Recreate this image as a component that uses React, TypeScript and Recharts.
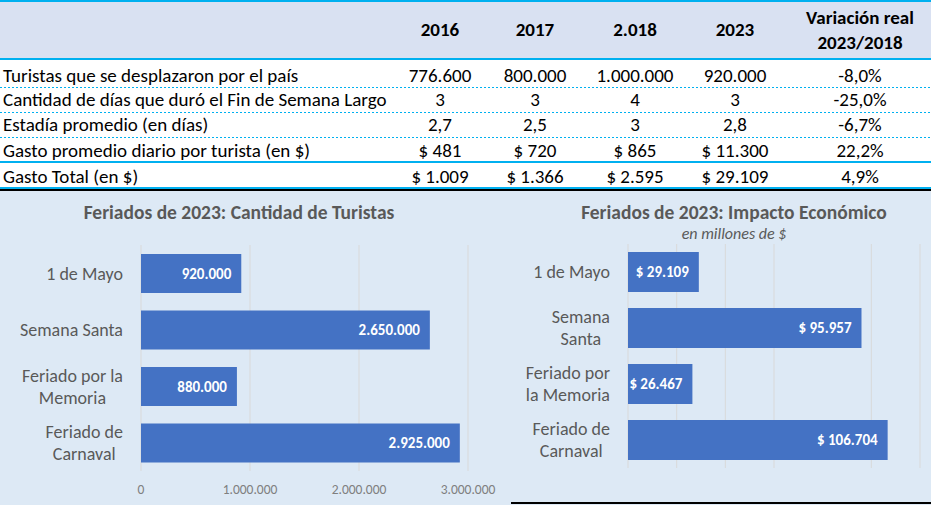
import React from 'react';
import { BarChart, Bar, XAxis, YAxis, CartesianGrid, LabelList } from 'recharts';

const FONT = 'Carlito, Calibri, Lato, sans-serif';

// table
const tableYears = ['2016', '2017', '2.018', '2023'];
const tableVarHeader = ['Variación real', '2023/2018'];
const tableRowLabels = [
  'Turistas que se desplazaron por el país',
  'Cantidad de días que duró el Fin de Semana Largo',
  'Estadía promedio (en días)',
  'Gasto promedio diario por turista (en $)',
  'Gasto Total (en $)',
];
const tableRowValues = [
  ['776.600', '800.000', '1.000.000', '920.000', '-8,0%'],
  ['3', '3', '4', '3', '-25,0%'],
  ['2,7', '2,5', '3', '2,8', '-6,7%'],
  ['$ 481', '$ 720', '$ 865', '$ 11.300', '22,2%'],
  ['$ 1.009', '$ 1.366', '$ 2.595', '$ 29.109', '4,9%'],
];

// charts
const feriados = ['1 de Mayo', 'Semana Santa', 'Feriado por la Memoria', 'Feriado de Carnaval'];
const turistas = [920000, 2650000, 880000, 2925000];
const impacto = [29109, 95957, 26467, 106704];
const turistasTicks = [0, 1000000, 2000000, 3000000];
const impactoTicks = [0, 20000, 40000, 60000, 80000, 100000];
const turistasLabelLines = [['1 de Mayo'], ['Semana Santa'], ['Feriado por la', 'Memoria'], ['Feriado de', 'Carnaval']];
const impactoLabelLines = [['1 de Mayo'], ['Semana', 'Santa'], ['Feriado por', 'la Memoria'], ['Feriado de', 'Carnaval']];

const turistasData = feriados.map((name, i) => ({ name, value: turistas[i] }));
const impactoData = feriados.map((name, i) => ({ name, value: impacto[i] }));

const BAR = '#4472c4';
const BG = '#dde9f5';
const CYAN = '#00b0f0';

const fmt = (n: number) => String(n).replace(/\B(?=(\d{3})+(?!\d))/g, '.');

let ctx: CanvasRenderingContext2D | null = null;
function textWidth(s: string, font: string) {
  if (!ctx) ctx = document.createElement('canvas').getContext('2d');
  if (!ctx) return s.length * 8;
  ctx.font = font;
  return ctx.measureText(s).width;
}

function CategoryTick(props: any) {
  const { x, y, payload, linesMap } = props;
  const lines: string[] = linesMap[payload.value] || [payload.value];
  const widest = Math.max(...lines.map(l => textWidth(l, `18px ${FONT}`)));
  const cx = x - widest / 2;
  const top = y - ((lines.length - 1) * 22) / 2;
  return (
    <g>
      {lines.map((l, i) => (
        <text key={i} x={cx} y={top + i * 22} dy='0.35em' textAnchor='middle' fill='#595959' fontSize={18} fontFamily={FONT}>
          {l}
        </text>
      ))}
    </g>
  );
}

function ValueLabel(props: any) {
  const { x, y, width, height, value, prefix } = props;
  return (
    <text x={x + width - 10} y={y + height / 2} dy='0.35em' textAnchor='end' fill='#fff' fontSize={15} fontWeight={700} fontFamily={FONT}>
      {(prefix || '') + fmt(value)}
    </text>
  );
}

function Table() {
  const rowCenters = [76, 100, 125, 151, 177];
  const centers = [440, 535, 635, 735, 860];
  const cell = (text: string, cx: number, cy: number, bold = false) => (
    <div
      key={text + cx + cy}
      style={{ position: 'absolute', left: cx - 100, width: 200, top: cy - 12, height: 24, lineHeight: '24px', textAlign: 'center', fontWeight: bold ? 700 : 400 }}
    >
      {text}
    </div>
  );
  const dotted = (top: number) => (
    <div key={'d' + top} style={{ position: 'absolute', left: 0, width: 931, top, height: 1, background: `repeating-linear-gradient(to right, ${CYAN} 0 2px, transparent 2px 4px)` }} />
  );
  return (
    <div style={{ position: 'absolute', left: 0, top: 0, width: 931, height: 190, background: '#fff', fontFamily: FONT, fontSize: 19, color: '#000' }}>
      <div style={{ position: 'absolute', left: 0, top: 0, width: 931, height: 58, background: '#d9e1f2' }} />
      <div style={{ position: 'absolute', left: 0, top: 0, width: 931, height: 2, background: CYAN }} />
      <div style={{ position: 'absolute', left: 0, top: 58, width: 931, height: 2, background: CYAN }} />
      {dotted(87)}
      {dotted(112)}
      {dotted(137)}
      <div style={{ position: 'absolute', left: 0, top: 161, width: 931, height: 2, background: CYAN }} />
      <div style={{ position: 'absolute', left: 0, top: 187, width: 931, height: 2, background: CYAN }} />
      <div style={{ position: 'absolute', left: 0, top: 189, width: 931, height: 2, background: '#000' }} />
      {tableYears.map((y, i) => cell(y, centers[i], 30, true))}
      {cell(tableVarHeader[0], centers[4], 18, true)}
      {cell(tableVarHeader[1], centers[4], 43, true)}
      {tableRowLabels.map((l, r) => (
        <div key={l} style={{ position: 'absolute', left: 3, top: rowCenters[r] - 12, height: 24, lineHeight: '24px', whiteSpace: 'nowrap' }}>
          {l}
        </div>
      ))}
      {tableRowValues.map((row, r) => row.map((v, c) => cell(v, centers[c], rowCenters[r])))}
    </div>
  );
}

export default function App() {
  const leftMap: Record<string, string[]> = {};
  const rightMap: Record<string, string[]> = {};
  feriados.forEach((f, i) => {
    leftMap[f] = turistasLabelLines[i];
    rightMap[f] = impactoLabelLines[i];
  });
  const titleStyle: React.CSSProperties = { position: 'absolute', textAlign: 'center', fontFamily: FONT, fontWeight: 700, fontSize: 19.5, color: '#595959', whiteSpace: 'nowrap' };
  return (
    <div style={{ position: 'absolute', left: 0, top: 0, width: 931, height: 505, background: BG, overflow: 'hidden' }}>
      <Table />
      <div style={{ ...titleStyle, left: 39, width: 400, top: 200, height: 24, lineHeight: '24px' }}>Feriados de 2023: Cantidad de Turistas</div>
      <div style={{ ...titleStyle, left: 534, width: 400, top: 200, height: 24, lineHeight: '24px' }}>Feriados de 2023: Impacto Económico</div>
      <div style={{ ...titleStyle, left: 534, width: 400, top: 225, height: 18, lineHeight: '18px', fontWeight: 400, fontStyle: 'italic', fontSize: 16 }}>en millones de $</div>

      <div style={{ position: 'absolute', left: 0, top: 190 }}>
        <BarChart width={512} height={315} data={turistasData} layout='vertical' margin={{ top: 55, right: 44, left: 0, bottom: 4 }}>
          <CartesianGrid horizontal={false} stroke='#d9d9d9' />
          <XAxis
            type='number'
            domain={[0, 3000000]}
            ticks={turistasTicks}
            tickFormatter={fmt}
            axisLine={false}
            tickLine={false}
            tickMargin={7}
            height={30}
            tick={{ fontSize: 13.5, fill: '#7f7f7f', fontFamily: FONT }}
          />
          <YAxis
            type='category'
            dataKey='name'
            width={141}
            axisLine={false}
            tickLine={false}
            tickSize={0}
            tickMargin={18}
            tick={<CategoryTick linesMap={leftMap} />}
          />
          <Bar dataKey='value' fill={BAR} barSize={39} isAnimationActive={false}>
            <LabelList dataKey='value' content={<ValueLabel />} />
          </Bar>
        </BarChart>
      </div>

      <div style={{ position: 'absolute', left: 512, top: 190 }}>
        <BarChart width={419} height={315} data={impactoData} layout='vertical' margin={{ top: 54, right: 11, left: 0, bottom: 37 }}>
          <CartesianGrid horizontal={false} stroke='#d9d9d9' />
          <XAxis type='number' domain={[0, 120000]} ticks={impactoTicks} hide />
          <YAxis
            type='category'
            dataKey='name'
            width={116}
            axisLine={false}
            tickLine={false}
            tickSize={0}
            tickMargin={18}
            tick={<CategoryTick linesMap={rightMap} />}
          />
          <Bar dataKey='value' fill={BAR} barSize={40} isAnimationActive={false}>
            <LabelList dataKey='value' content={<ValueLabel prefix='$ ' />} />
          </Bar>
        </BarChart>
      </div>
      <div style={{ position: 'absolute', left: 511, top: 502, width: 420, height: 2, background: '#000' }} />
    </div>
  );
}
